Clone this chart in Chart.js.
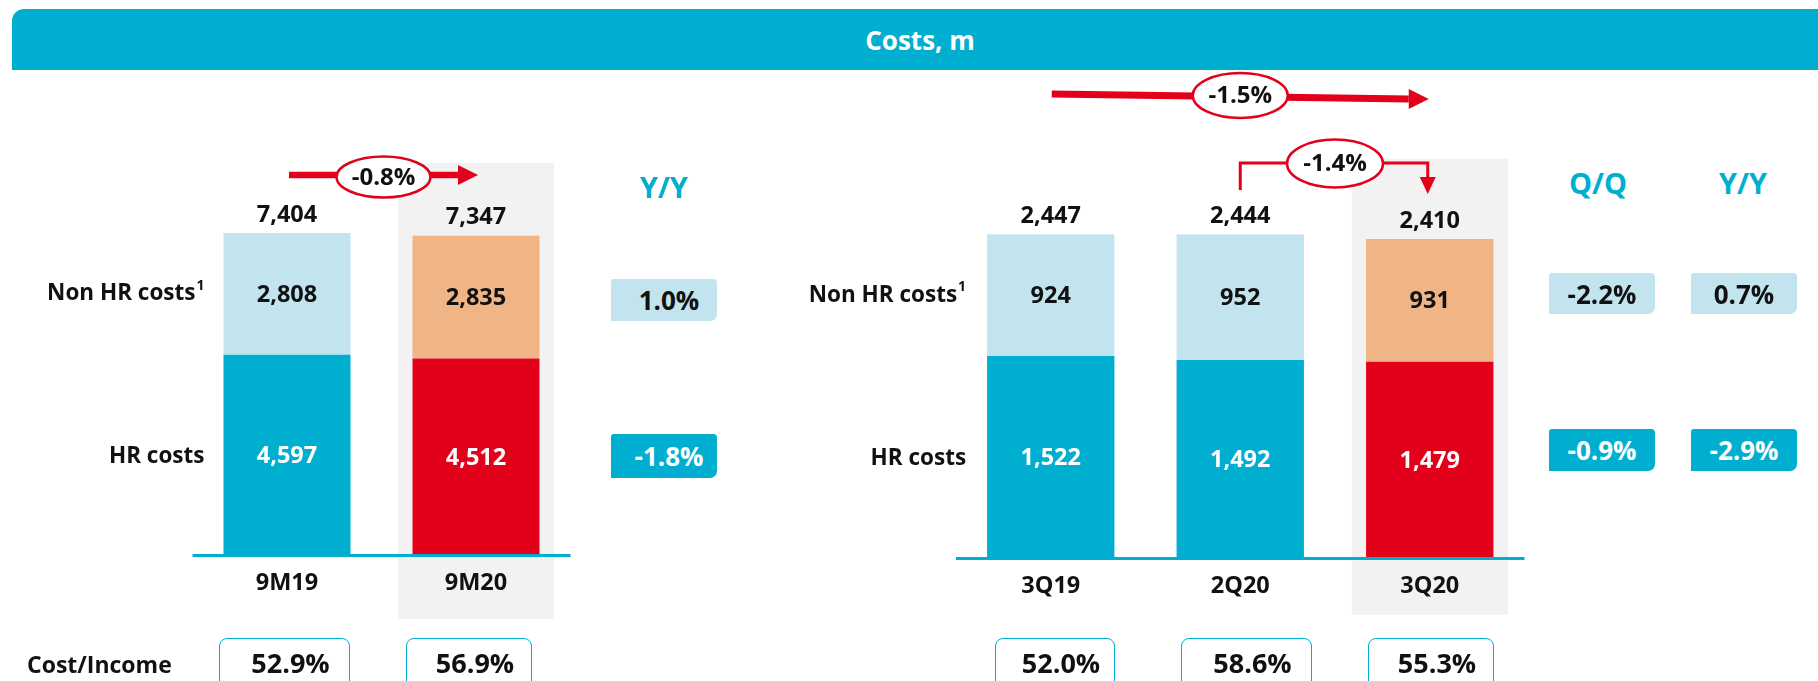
<!DOCTYPE html>
<html>
<head>
<meta charset="utf-8">
<script src="https://cdn.jsdelivr.net/npm/chart.js@4"></script>
<style>
  html,body{margin:0;padding:0;}
  body{width:1818px;height:681px;overflow:hidden;background:#fff;position:relative;font-family:"Open Sans","Liberation Sans",Arial,sans-serif;font-weight:bold;color:#111;}
  canvas{position:absolute;top:0;}
  .c{position:absolute;transform:translate(-50%,-50%);white-space:nowrap;}
  #hdr{position:absolute;left:12px;top:9px;width:1806px;height:61px;background:#00AFD0;border-top-left-radius:12px;color:#fff;font-size:26px;display:flex;align-items:center;justify-content:center;box-sizing:border-box;padding-left:10px;}
  .ttl{color:#00AFD0;}
  .pbox{position:absolute;display:flex;align-items:center;justify-content:center;font-size:26px;border-radius:3px 4px 7px 0;}
  .light{background:#C1E4EE;color:#111;}
  .dark{background:#00AFD0;color:#fff;}
  .cibox{position:absolute;top:638px;height:60px;box-sizing:border-box;border:1.5px solid #00AFD0;border-radius:8px;font-size:27px;display:flex;justify-content:center;padding-left:12px;padding-top:5px;}
</style>
</head>
<body>
<canvas id="left" width="640" height="681" style="left:0px"></canvas>
<canvas id="right" width="800" height="681" style="left:760px"></canvas>
<div id="hdr">Costs, m</div>
<div id="overlay"></div>
<script>
// ---- data ----
const periodsLeft = ["9M19", "9M20"];
const hrLeft = [4597, 4512];
const nonHrLeft = [2808, 2835];
const totalsLeft = [7404, 7347];

const periodsRight = ["3Q19", "2Q20", "3Q20"];
const hrRight = [1522, 1492, 1479];
const nonHrRight = [924, 952, 931];
const totalsRight = [2447, 2444, 2410];

const rowLabels = ["Non HR costs", "HR costs"];
const yyLeft = ["1.0%", "-1.8%"];        // Non HR, HR
const qqRight = ["-2.2%", "-0.9%"];      // Non HR, HR
const yyRight = ["0.7%", "-2.9%"];       // Non HR, HR
const costIncomeLeft = ["52.9%", "56.9%"];
const costIncomeRight = ["52.0%", "58.6%", "55.3%"];
const changeLeftYY = "-0.8%";
const changeRightYY = "-1.5%";
const changeRightQQ = "-1.4%";

// ---- style ----
const TEAL = "#00AFD0", LIGHT = "#C1E4EE", ORANGE = "#EFB587", RED = "#E2001A", GREY = "#F2F2F2", ARROW = "#E2001A";
const FONT = '"Open Sans", "Liberation Sans", Arial, sans-serif';
const fmt = v => v.toLocaleString("en-US");

function ellipseLabel(ctx, cx, cy, rx, ry, text) {
  ctx.save();
  ctx.beginPath();
  ctx.ellipse(cx, cy, rx, ry, 0, 0, Math.PI * 2);
  ctx.fillStyle = "#fff";
  ctx.fill();
  ctx.lineWidth = 2.5;
  ctx.strokeStyle = ARROW;
  ctx.stroke();
  ctx.fillStyle = "#111";
  ctx.font = "bold 24px " + FONT;
  ctx.textAlign = "center";
  ctx.textBaseline = "middle";
  ctx.fillText(text, cx, cy + 1);
  ctx.restore();
}

function arrowH(ctx, x0, y0, x1, y1, lw, headL, headH) {
  ctx.save();
  ctx.fillStyle = ARROW;
  ctx.strokeStyle = ARROW;
  ctx.lineWidth = lw;
  ctx.beginPath();
  ctx.moveTo(x0, y0);
  ctx.lineTo(x1 - headL, y1);
  ctx.stroke();
  ctx.beginPath();
  ctx.moveTo(x1 - headL, y1 - headH);
  ctx.lineTo(x1, y1);
  ctx.lineTo(x1 - headL, y1 + headH);
  ctx.closePath();
  ctx.fill();
  ctx.restore();
}

function decoPlugin(cfg) {
  return {
    id: "deco",
    beforeDatasetsDraw(chart) {
      const ctx = chart.ctx, ca = chart.chartArea;
      const bar = chart.getDatasetMeta(0).data[cfg.highlight];
      ctx.save();
      ctx.fillStyle = GREY;
      ctx.fillRect(bar.x - 78, ca.top + cfg.greyTop, 156, ca.bottom + cfg.greyBottom - (ca.top + cfg.greyTop));
      ctx.restore();
    },
    afterDatasetsDraw(chart) {
      const ctx = chart.ctx, ca = chart.chartArea;
      ctx.save();
      // baseline
      ctx.fillStyle = TEAL;
      ctx.fillRect(ca.left, ca.bottom, ca.right - ca.left, 3);
      const hrMeta = chart.getDatasetMeta(0), nhMeta = chart.getDatasetMeta(1);
      ctx.textAlign = "center";
      ctx.textBaseline = "middle";
      ctx.font = "bold 23.5px " + FONT;
      hrMeta.data.forEach((b, i) => {
        const nb = nhMeta.data[i];
        ctx.fillStyle = "#fff";
        ctx.fillText(fmt(cfg.hr[i]), b.x, (b.y + b.base) / 2 + 2);
        ctx.fillStyle = "#111";
        ctx.fillText(fmt(cfg.nonHr[i]), nb.x, (nb.y + nb.base) / 2 + 1);
        ctx.fillText(fmt(cfg.totals[i]), nb.x, nb.y - 18);
        ctx.fillText(cfg.labels[i], b.x, ca.bottom + 29);
      });
      // row labels
      const b0 = hrMeta.data[0], n0 = nhMeta.data[0];
      ctx.textAlign = "right";
      ctx.font = "bold 22.5px " + FONT;
      const lx = b0.x - b0.width / 2 - cfg.rowGap;
      const ny = (n0.y + n0.base) / 2;
      ctx.fillText(rowLabels[0], lx - 9, ny);
      ctx.font = "bold 14px " + FONT;
      ctx.textAlign = "left";
      ctx.fillText("1", lx - 8, ny - 8);
      ctx.textAlign = "right";
      ctx.font = "bold 22.5px " + FONT;
      ctx.fillText(rowLabels[1], lx, (b0.y + b0.base) / 2 + 2);
      ctx.restore();
    },
    afterDraw(chart) {
      cfg.arrows(chart);
    }
  };
}

function makeChart(id, labels, hr, nonHr, highlight, max, padding, cfg) {
  const hrColors = labels.map((_, i) => i === highlight ? RED : TEAL);
  const nhColors = labels.map((_, i) => i === highlight ? ORANGE : LIGHT);
  return new Chart(document.getElementById(id), {
    type: "bar",
    data: {
      labels: labels,
      datasets: [
        { label: "HR costs", data: hr, backgroundColor: hrColors, borderWidth: 0 },
        { label: "Non HR costs", data: nonHr, backgroundColor: nhColors, borderWidth: 0 }
      ]
    },
    options: {
      responsive: false,
      animation: false,
      layout: { padding: padding },
      plugins: { legend: { display: false }, tooltip: { enabled: false } },
      datasets: { bar: { categoryPercentage: 1.0, barPercentage: 0.672 } },
      scales: {
        x: { stacked: true, display: false },
        y: { stacked: true, display: false, min: 0, max: max }
      }
    },
    plugins: [decoPlugin(Object.assign({ labels, hr, nonHr, highlight }, cfg))]
  });
}

makeChart("left", periodsLeft, hrLeft, nonHrLeft, 1, 9000,
  { left: 192.5, right: 69.5, top: 164, bottom: 127 },
  { totals: totalsLeft, greyTop: -1, greyBottom: 65, rowGap: 19,
    arrows(chart) {
      const ctx = chart.ctx;
      const d = chart.getDatasetMeta(1).data;
      const x0 = d[0].x + 2, x1 = d[1].x + 2, y = 175;
      arrowH(ctx, x0, y, x1, y, 6.5, 20, 10);
      ellipseLabel(ctx, (x0 + x1) / 2, 177, 47, 20.5, changeLeftYY);
    }
  });

makeChart("right", periodsRight, hrRight, nonHrRight, 2, 3000,
  { left: 196, right: 35.5, top: 161, bottom: 124 },
  { totals: totalsRight, greyTop: -2, greyBottom: 58, rowGap: 21,
    arrows(chart) {
      const ctx = chart.ctx;
      const d = chart.getDatasetMeta(1).data;
      // Y/Y arrow 3Q19 -> 3Q20
      arrowH(ctx, d[0].x + 1, 94, d[2].x - 1, 99, 7, 20, 10);
      ellipseLabel(ctx, d[1].x, 95.5, 47.5, 22.5, changeRightYY);
      // Q/Q bracket 2Q20 -> 3Q20
      ctx.save();
      ctx.strokeStyle = ARROW; ctx.fillStyle = ARROW; ctx.lineWidth = 3;
      ctx.beginPath();
      ctx.moveTo(d[1].x, 190);
      ctx.lineTo(d[1].x, 163);
      ctx.lineTo(d[2].x - 2, 163);
      ctx.lineTo(d[2].x - 2, 178);
      ctx.stroke();
      ctx.beginPath();
      ctx.moveTo(d[2].x - 10, 177);
      ctx.lineTo(d[2].x + 6, 177);
      ctx.lineTo(d[2].x - 2, 194);
      ctx.closePath();
      ctx.fill();
      ctx.restore();
      ellipseLabel(ctx, (d[1].x + d[2].x) / 2, 163.5, 48, 24, changeRightQQ);
    }
  });

// ---- HTML overlay (titles, change boxes, cost/income) ----
const ov = document.getElementById("overlay");
function add(html) { ov.insertAdjacentHTML("beforeend", html); }
add(`<div class="c ttl" style="left:664px;top:186px;font-size:29px">Y/Y</div>`);
add(`<div class="c ttl" style="left:1598px;top:182px;font-size:29px">Q/Q</div>`);
add(`<div class="c ttl" style="left:1743px;top:182px;font-size:29px">Y/Y</div>`);

add(`<div class="pbox light" style="left:611px;top:279px;width:106px;height:42px;padding-left:10px;box-sizing:border-box">${yyLeft[0]}</div>`);
add(`<div class="pbox dark" style="left:611px;top:434px;width:106px;height:44px;padding-left:10px;box-sizing:border-box">${yyLeft[1]}</div>`);
add(`<div class="pbox light" style="left:1549px;top:273px;width:106px;height:41px">${qqRight[0]}</div>`);
add(`<div class="pbox light" style="left:1691px;top:273px;width:106px;height:41px">${yyRight[0]}</div>`);
add(`<div class="pbox dark" style="left:1549px;top:429px;width:106px;height:42px">${qqRight[1]}</div>`);
add(`<div class="pbox dark" style="left:1691px;top:429px;width:106px;height:42px">${yyRight[1]}</div>`);

add(`<div style="position:absolute;left:27px;top:648px;font-size:23px">Cost/Income</div>`);
const ciLeftPos = [[219, 131], [406, 126]];
const ciRightPos = [[995, 120], [1181, 131], [1368, 126]];
costIncomeLeft.forEach((t, i) => add(`<div class="cibox" style="left:${ciLeftPos[i][0]}px;width:${ciLeftPos[i][1]}px">${t}</div>`));
costIncomeRight.forEach((t, i) => add(`<div class="cibox" style="left:${ciRightPos[i][0]}px;width:${ciRightPos[i][1]}px">${t}</div>`));
</script>
</body>
</html>
